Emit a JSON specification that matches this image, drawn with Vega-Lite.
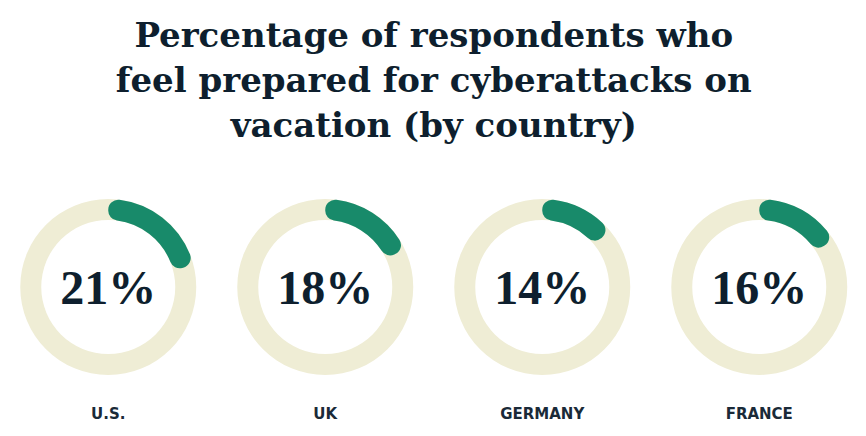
{
  "$schema": "https://vega.github.io/schema/vega-lite/v6.json",
  "background": "white",
  "padding": {"top": 20, "left": 0, "right": 0, "bottom": 0},
  "title": {
    "text": ["Percentage of respondents who", "feel prepared for cyberattacks on", "vacation (by country)"],
    "anchor": "middle",
    "font": "DejaVu Serif",
    "fontSize": 34,
    "fontWeight": 600,
    "color": "#0e1f2e",
    "lineHeight": 45,
    "offset": 53
  },
  "data": {
    "values": [
      {"country": "U.S.", "pct": 21, "total": 100, "label": "21%"},
      {"country": "UK", "pct": 18, "total": 100, "label": "18%"},
      {"country": "GERMANY", "pct": 14, "total": 100, "label": "14%"},
      {"country": "FRANCE", "pct": 16, "total": 100, "label": "16%"}
    ]
  },
  "spacing": 0,
  "facet": {
    "column": {
      "field": "country",
      "type": "nominal",
      "sort": ["U.S.", "UK", "GERMANY", "FRANCE"],
      "header": {
        "title": null,
        "labelOrient": "bottom",
        "labelPadding": 30,
        "labelFont": "DejaVu Sans",
        "labelFontSize": 15,
        "labelFontWeight": "bold",
        "labelColor": "#1a2a38"
      }
    }
  },
  "spec": {
    "width": 216.5,
    "height": 180,
    "layer": [
      {
        "mark": {"type": "arc", "radius": 88, "radius2": 67, "color": "#efedd5"},
        "encoding": {
          "theta": {"field": "total", "type": "quantitative", "scale": {"domain": [0, 100]}}
        }
      },
      {
        "mark": {"type": "arc", "radius": 88, "radius2": 67, "color": "#188a6a", "cornerRadius": 10},
        "encoding": {
          "theta": {"field": "pct", "type": "quantitative", "scale": {"domain": [0, 100]}}
        }
      },
      {
        "mark": {"type": "text", "font": "Liberation Serif", "fontSize": 48, "fontWeight": "bold", "color": "#0e1f2e", "baseline": "middle", "dy": 3},
        "encoding": {
          "text": {"field": "label", "type": "nominal"}
        }
      }
    ]
  },
  "config": {"view": {"stroke": null}}
}
